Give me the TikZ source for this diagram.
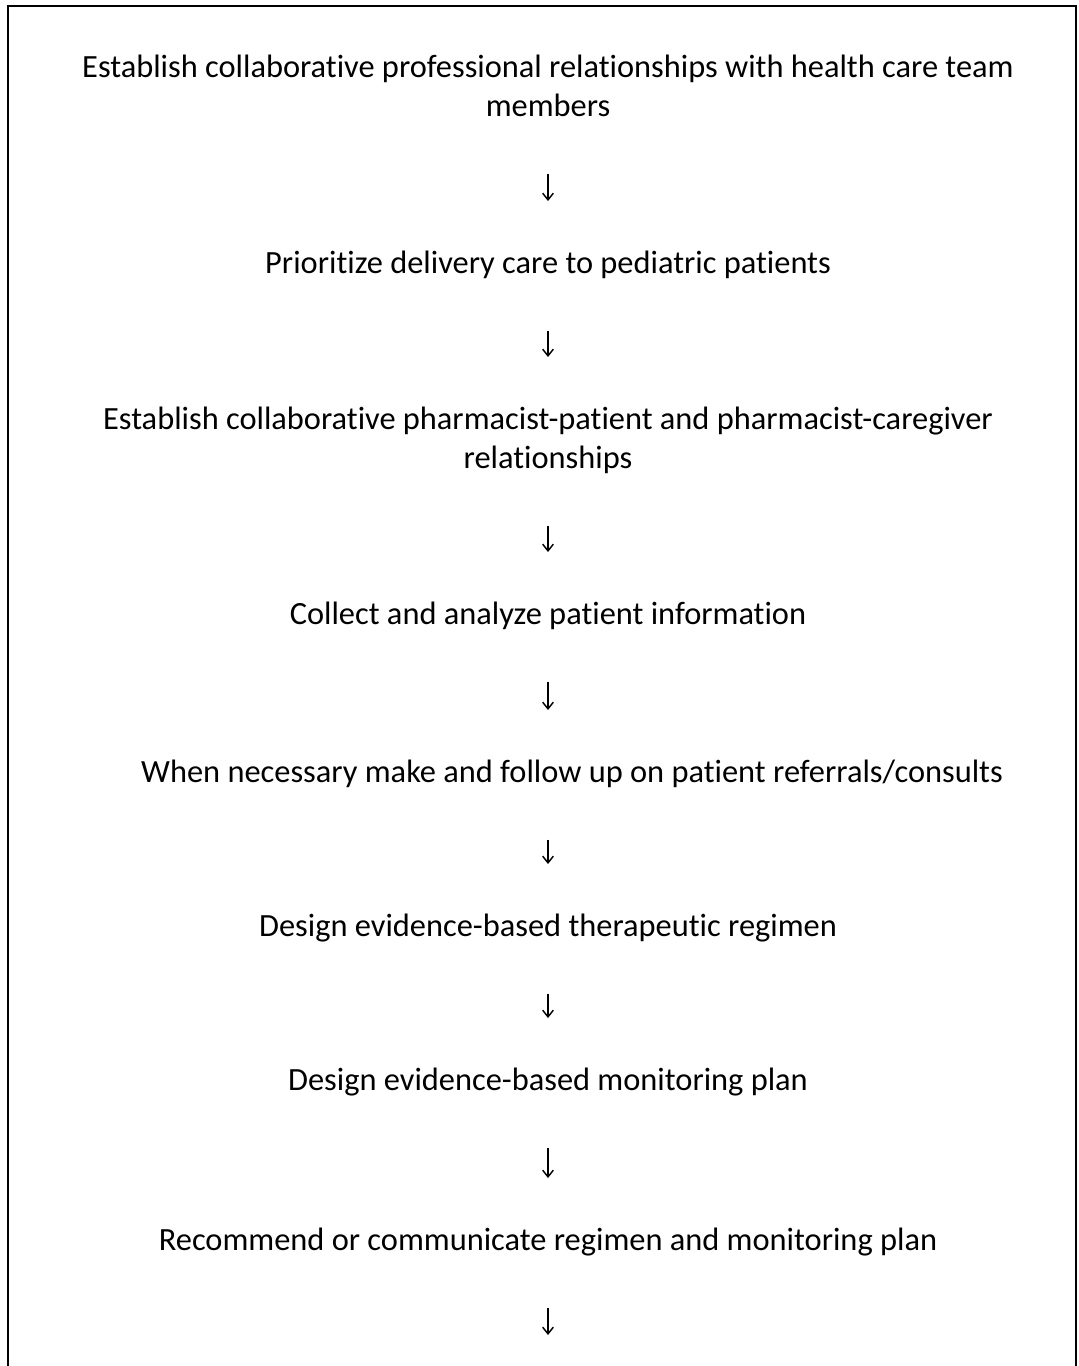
\documentclass[tikz,border=0pt]{standalone}
\usepackage{fontspec}
\setmainfont{Carlito}[Ligatures=NoCommon]
\usetikzlibrary{arrows.meta}

\begin{document}
\begin{tikzpicture}[x=0.75pt,y=-0.75pt,
  stepnode/.style={anchor=north,inner sep=0pt,align=center,font=\fontsize{24.3}{29.25}\selectfont},
  flow/.style={line width=1.1pt,-{Straight Barb[length=5pt,width=8pt]},shorten <=34pt,shorten >=33.5pt},
  frame/.style={line width=1.5pt}]
\useasboundingbox (0,0) rectangle (1078,1366);
\draw[frame] (8,1366) |- (1076,6) -- (1076,1366);
\node[stepnode] (s1) at (548,49.7) {\strut Establish collaborative professional relationships with health care team\\members\strut};
\node[stepnode] (s2) at (548,245.7) {\strut Prioritize delivery care to pediatric patients\strut};
\node[stepnode] (s3) at (548,401.7) {\strut Establish collaborative pharmacist-patient and pharmacist-caregiver\\relationships\strut};
\node[stepnode] (s4) at (548,596.7) {\strut Collect and analyze patient information\strut};
\node[stepnode] (s5) at (548,754.7) {\strut\hspace*{36pt}When necessary make and follow up on patient referrals/consults\strut};
\node[stepnode] (s6) at (548,908.7) {\strut Design evidence-based therapeutic regimen\strut};
\node[stepnode] (s7) at (548,1062.7) {\strut Design evidence-based monitoring plan\strut};
\node[stepnode] (s8) at (548,1222.7) {\strut Recommend or communicate regimen and monitoring plan\strut};
\coordinate (s9) at (548,1335);
\foreach \a/\b in {s1/s2,s2/s3,s3/s4,s4/s5,s5/s6,s6/s7,s7/s8}
  \draw[flow] (\a) -- (\b);
\draw[flow,shorten >=0pt] (s8) -- (s9);
\end{tikzpicture}
\end{document}
